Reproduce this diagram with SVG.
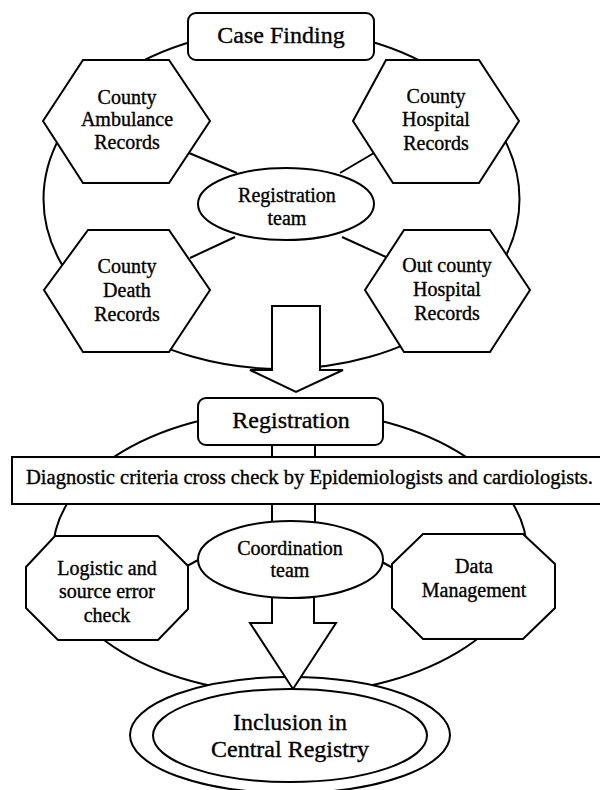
<svg xmlns="http://www.w3.org/2000/svg" width="600" height="790" viewBox="0 0 600 790">
<style>
.s{fill:#fff;stroke:#000;stroke-width:2;stroke-linejoin:miter}
.r{fill:none;stroke:#000;stroke-width:2}
.l{stroke:#000;stroke-width:2;fill:none}
text{font-family:"Liberation Serif","Times New Roman",serif;fill:#000;stroke:#000;stroke-width:0.35;text-anchor:middle}
.t20{font-size:20px}
.t24{font-size:24px}
</style>
<rect width="600" height="790" fill="#fff"/>

<!-- top section -->
<g id="ring-case-finding"><ellipse class="r" cx="281.5" cy="199" rx="238" ry="170"/></g>
<g id="connectors">
  <line class="l" x1="189" y1="153" x2="237" y2="173"/>
  <line class="l" x1="374" y1="153" x2="340" y2="173"/>
  <line class="l" x1="190" y1="258" x2="235" y2="237"/>
  <line class="l" x1="386" y1="257" x2="342" y2="237"/>
  <polygon class="s" points="272,306 320,306 320,370 343,370 296,392 250,370 272,370"/>
  <line class="l" x1="272" y1="445" x2="272" y2="524"/>
  <line class="l" x1="315" y1="445" x2="315" y2="524"/>
  <line class="l" x1="187" y1="566" x2="200" y2="559"/>
  <line class="l" x1="382" y1="562" x2="393" y2="568"/>
</g>
<g id="case-finding">
  <rect class="s" x="188" y="13" width="186" height="47" rx="8"/>
  <text class="t24" x="281" y="43">Case Finding</text>
</g>
<g id="county-ambulance">
  <polygon class="s" points="83,60 169,60 210,121 169,183 83,183 43,121"/>
  <text class="t20" x="127" y="104">County</text>
  <text class="t20" x="127" y="126">Ambulance</text>
  <text class="t20" x="127" y="149">Records</text>
</g>
<g id="county-hospital">
  <polygon class="s" points="386,60 479,60 519,121 479,183 393,183 353,121"/>
  <text class="t20" x="436" y="103">County</text>
  <text class="t20" x="436" y="126">Hospital</text>
  <text class="t20" x="436" y="150">Records</text>
</g>
<g id="county-death">
  <polygon class="s" points="88,230 169,230 210,290 169,352 83,352 44,290"/>
  <text class="t20" x="127" y="273">County</text>
  <text class="t20" x="127" y="297">Death</text>
  <text class="t20" x="127" y="321">Records</text>
</g>
<g id="out-county-hospital">
  <polygon class="s" points="404,230 490,230 530,290 490,352 404,352 365,290"/>
  <text class="t20" x="447" y="272">Out county</text>
  <text class="t20" x="447" y="296">Hospital</text>
  <text class="t20" x="447" y="320">Records</text>
</g>
<g id="registration-team">
  <ellipse class="s" cx="286" cy="204" rx="88" ry="36"/>
  <text class="t20" x="287" y="202">Registration</text>
  <text class="t20" x="287" y="225">team</text>
</g>

<!-- bottom section -->
<g id="ring-registration"><ellipse class="r" cx="290" cy="552" rx="237" ry="142"/></g>
<g id="registration">
  <rect class="s" x="198" y="398" width="185" height="47" rx="8"/>
  <text class="t24" x="291" y="428">Registration</text>
</g>
<g id="diagnostic-criteria">
  <rect class="s" x="12" y="457" width="600" height="47"/>
  <text class="t20" x="309.5" y="484" style="font-size:20.5px" textLength="567" lengthAdjust="spacingAndGlyphs">Diagnostic criteria cross check by Epidemiologists and cardiologists.</text>
</g>
<g id="logistic-check">
  <polygon class="s" points="55,536 158,536 188,566 188,609 158,640 58,640 26,608 26,567"/>
  <text class="t20" x="107" y="575">Logistic and</text>
  <text class="t20" x="107" y="598">source error</text>
  <text class="t20" x="107" y="622">check</text>
</g>
<g id="data-management">
  <polygon class="s" points="423,534 523,534 555,564 555,608 523,639 423,639 392,608 392,564"/>
  <text class="t20" x="474" y="573">Data</text>
  <text class="t20" x="474" y="597">Management</text>
</g>
<g id="inclusion-outer"><ellipse class="s" cx="290" cy="735" rx="160" ry="58"/></g>
<g id="arrow-to-inclusion">
  <polygon class="s" points="272,590 314,590 314,623 336,623 293,689 250,623 272,623"/>
</g>
<g id="coordination-team">
  <ellipse class="s" cx="290.5" cy="559.5" rx="92.5" ry="38.5"/>
  <text class="t20" x="290" y="555">Coordination</text>
  <text class="t20" x="290" y="577">team</text>
</g>
<g id="inclusion-central-registry">
  <ellipse class="s" cx="290" cy="735.5" rx="137" ry="46.5"/>
  <text class="t24" x="290" y="730">Inclusion in</text>
  <text class="t24" x="290" y="757">Central Registry</text>
</g>
</svg>
